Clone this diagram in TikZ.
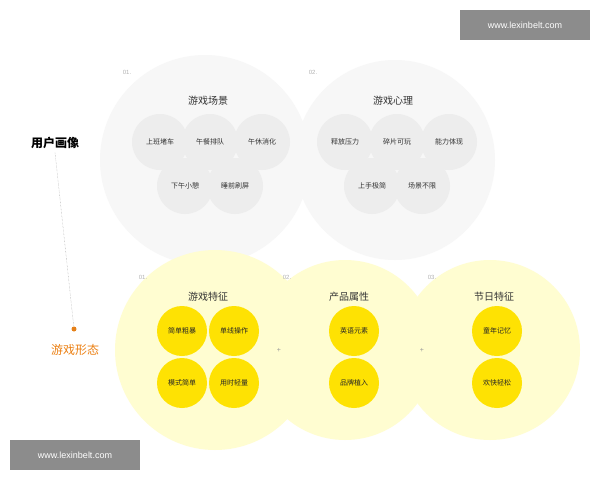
\documentclass[tikz,border=0pt]{standalone}
\usepackage{fontspec}
\setmainfont{Liberation Sans}
\newfontfamily\cjk{Noto Sans CJK SC}
\begin{document}
\begin{tikzpicture}[x=1pt,y=-1pt,
 big/.style={circle,fill=#1,inner sep=0,minimum size=200},
 gsm/.style={circle,fill=black!7,inner sep=0,minimum size=56,font=\cjk\fontsize{7}{8}\selectfont,text=black!80},
 ysm/.style={circle,fill=yellow!85!orange,inner sep=0,minimum size=50,font=\cjk\fontsize{7}{8}\selectfont,text=black!85},
 ttl/.style={font=\cjk\fontsize{10}{12}\selectfont,text=black!80},
 num/.style={font=\fontsize{6}{7}\selectfont,text=black!30},
 wm/.style={fill=black!45,text=white,font=\fontsize{9}{11}\selectfont,minimum width=130,minimum height=30,inner sep=0}]
\useasboundingbox (0,0) rectangle (600,480);
\fill[white] (0,0) rectangle (600,480);
\node[big=black!3,minimum size=210] (c1) at (205,160) {};
\node[big=black!3] (c2) at (395,160) {};
\node[big=yellow!18] (d1) at (215,350) {};
\node[big=yellow!18,minimum size=180] (d2) at (345,350) {};
\node[big=yellow!18,minimum size=180] (d3) at (490,350) {};
\node[num] (n1) at (127,72) {01.};
\node[num] (n2) at (313,72) {02.};
\node[num] (m1) at (143,277) {01.};
\node[num] (m2) at (287,277) {02.};
\node[num] (m3) at (432,277) {03.};
\node[ttl] (t1) at (208,101) {游戏场景};
\node[ttl] (t2) at (393,101) {游戏心理};
\node[ttl] (t3) at (208,297) {游戏特征};
\node[ttl] (t4) at (349,297) {产品属性};
\node[ttl] (t5) at (494,297) {节日特征};
\node[gsm] (a1) at (160,142) {上班堵车};
\node[gsm] (a2) at (210,142) {午餐排队};
\node[gsm] (a3) at (262,142) {午休消化};
\node[gsm] (a4) at (185,186) {下午小憩};
\node[gsm] (a5) at (235,186) {睡前刷屏};
\node[gsm] (b1) at (345,142) {释放压力};
\node[gsm] (b2) at (397,142) {碎片可玩};
\node[gsm] (b3) at (449,142) {能力体现};
\node[gsm] (b4) at (372,186) {上手极简};
\node[gsm] (b5) at (422,186) {场景不限};
\node[ysm] (y1) at (182,331) {简单粗暴};
\node[ysm] (y2) at (234,331) {单线操作};
\node[ysm] (y3) at (182,383) {模式简单};
\node[ysm] (y4) at (234,383) {用时轻量};
\node[ysm] (y5) at (354,331) {英语元素};
\node[ysm] (y6) at (354,383) {品牌植入};
\node[ysm] (y7) at (497,331) {童年记忆};
\node[ysm] (y8) at (497,383) {欢快轻松};
\node[text=black!40,font=\fontsize{7}{8}\selectfont] (p1) at (279,350) {+};
\node[text=black!40,font=\fontsize{7}{8}\selectfont] (p2) at (422,350) {+};
\node[font=\cjk\bfseries\fontsize{12}{14}\selectfont] (u) at (55,143) {用户画像};
\node[circle,fill=orange!60!brown,inner sep=0,minimum size=5] (dot) at (74,329) {};
\node[font=\cjk\fontsize{12}{14}\selectfont,text=orange!70!brown] (g) at (75,350) {游戏形态};
\draw[densely dotted,black!40] (u.south) -- (dot);
\node[wm] (w1) at (525,25) {www.lexinbelt.com};
\node[wm] (w2) at (75,455) {www.lexinbelt.com};
\end{tikzpicture}
\end{document}
